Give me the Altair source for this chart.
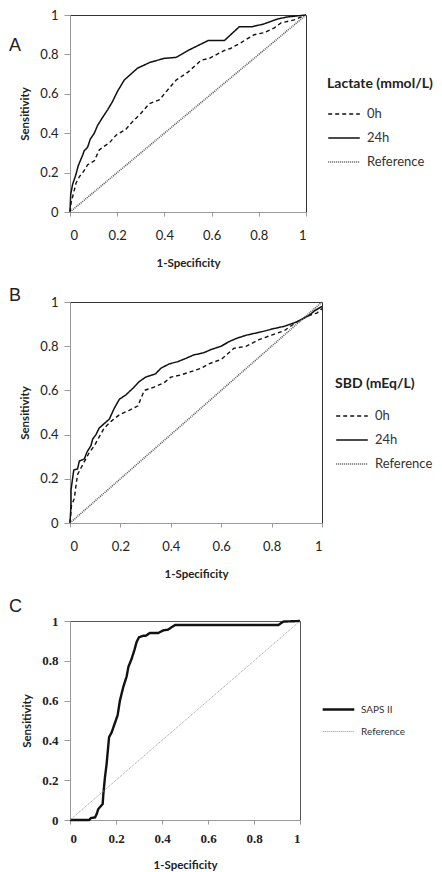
import altair as alt
import pandas as pd

LETTERS = ["A", "B", "C"]
LEGEND_TITLES = ["Lactate (mmol/L)", "SBD (mEq/L)", ""]
TICKS = [0, 0.2, 0.4, 0.6, 0.8, 1]

# Panel A: Lactate
a0_x = [0, 0.005, 0.016, 0.025, 0.04, 0.054, 0.075, 0.103, 0.124, 0.14, 0.166, 0.195, 0.237, 0.266, 0.30, 0.336, 0.38, 0.407, 0.45, 0.50, 0.555, 0.59, 0.654, 0.68, 0.725, 0.78, 0.823, 0.866, 0.894, 0.95, 1.0]
a0_y = [0, 0.05, 0.10, 0.145, 0.18, 0.20, 0.24, 0.26, 0.315, 0.33, 0.35, 0.39, 0.42, 0.46, 0.50, 0.55, 0.57, 0.61, 0.67, 0.71, 0.77, 0.78, 0.82, 0.83, 0.86, 0.90, 0.91, 0.935, 0.96, 0.975, 1.0]
a24_x = [0, 0.003, 0.011, 0.025, 0.035, 0.054, 0.06, 0.075, 0.086, 0.103, 0.117, 0.138, 0.16, 0.18, 0.20, 0.23, 0.258, 0.286, 0.34, 0.40, 0.45, 0.50, 0.585, 0.654, 0.717, 0.77, 0.823, 0.88, 0.92, 0.96, 1.0]
a24_y = [0, 0.09, 0.14, 0.19, 0.235, 0.29, 0.31, 0.33, 0.37, 0.40, 0.44, 0.48, 0.52, 0.56, 0.61, 0.67, 0.70, 0.73, 0.76, 0.78, 0.785, 0.82, 0.87, 0.87, 0.94, 0.94, 0.955, 0.98, 0.99, 0.995, 1.0]

# Panel B: SBD
b0_x = [0, 0.006, 0.017, 0.024, 0.03, 0.044, 0.063, 0.077, 0.097, 0.116, 0.136, 0.163, 0.196, 0.235, 0.27, 0.28, 0.295, 0.334, 0.374, 0.40, 0.44, 0.48, 0.52, 0.55, 0.60, 0.65, 0.70, 0.75, 0.80, 0.85, 0.90, 0.95, 0.98, 1.0]
b0_y = [0, 0.08, 0.11, 0.17, 0.22, 0.25, 0.29, 0.32, 0.35, 0.39, 0.43, 0.46, 0.49, 0.51, 0.53, 0.56, 0.60, 0.615, 0.635, 0.66, 0.67, 0.685, 0.70, 0.72, 0.74, 0.79, 0.80, 0.83, 0.85, 0.87, 0.91, 0.94, 0.95, 0.97]
b24_x = [0, 0.004, 0.004, 0.015, 0.03, 0.037, 0.057, 0.067, 0.083, 0.09, 0.103, 0.116, 0.136, 0.156, 0.176, 0.196, 0.222, 0.25, 0.275, 0.30, 0.34, 0.36, 0.394, 0.427, 0.46, 0.49, 0.53, 0.56, 0.60, 0.63, 0.66, 0.70, 0.76, 0.81, 0.85, 0.90, 0.95, 0.97, 1.0]
b24_y = [0, 0.08, 0.15, 0.24, 0.245, 0.28, 0.29, 0.32, 0.35, 0.38, 0.40, 0.43, 0.45, 0.47, 0.52, 0.56, 0.58, 0.61, 0.64, 0.66, 0.675, 0.70, 0.72, 0.73, 0.745, 0.76, 0.77, 0.785, 0.80, 0.82, 0.835, 0.85, 0.865, 0.88, 0.89, 0.91, 0.94, 0.96, 0.98]

# Panel C: SAPS II
c_x = [0, 0.083, 0.091, 0.109, 0.116, 0.123, 0.142, 0.145, 0.152, 0.159, 0.17, 0.181, 0.193, 0.207, 0.217, 0.232, 0.246, 0.254, 0.268, 0.28, 0.29, 0.30, 0.319, 0.329, 0.348, 0.384, 0.406, 0.425, 0.457, 0.906, 0.928, 1.0]
c_y = [0, 0, 0.01, 0.013, 0.03, 0.055, 0.08, 0.13, 0.215, 0.28, 0.417, 0.44, 0.48, 0.526, 0.60, 0.67, 0.72, 0.77, 0.81, 0.854, 0.896, 0.918, 0.926, 0.926, 0.94, 0.94, 0.953, 0.956, 0.98, 0.98, 0.997, 1.0]

ref_x = [0, 1]
ref_y = [0, 1]


def frame(series):
    rows = []
    for name, xs, ys in series:
        for i, (xv, yv) in enumerate(zip(xs, ys)):
            rows.append({"series": name, "x": xv, "y": yv, "i": i})
    return pd.DataFrame(rows)


def panel(idx, series, colors, dashes, widths, w, h, legend_kw, label_font,
          label_size, label_weight, view_stroke, letter_y, xlab_pad, xtitle_pad):
    df = frame(series)
    names = [s[0] for s in series]
    leg = alt.Legend(**legend_kw)
    xaxis = alt.Axis(values=TICKS, format="~g", title="1-Specificity", grid=False,
                     domainColor="#999", tickColor="#999", tickSize=4,
                     labelPadding=xlab_pad, labelFont=label_font, labelFontSize=label_size,
                     labelFontWeight=label_weight, labelColor="#222",
                     titleFont="Lato", titleFontSize=11.5, titleFontWeight="bold",
                     titleColor="#222", titlePadding=xtitle_pad)
    yaxis = alt.Axis(values=TICKS, format="~g", title="Sensitivity", grid=False,
                     domainColor="#999", tickColor="#999", tickSize=6,
                     labelPadding=6, labelFont=label_font, labelFontSize=label_size,
                     labelFontWeight=label_weight, labelColor="#222",
                     titleFont="Lato", titleFontSize=11.5, titleFontWeight="bold",
                     titleColor="#222", titlePadding=9)
    lines = alt.Chart(df).mark_line(interpolate="linear").encode(
        x=alt.X("x:Q", scale=alt.Scale(domain=[0, 1], nice=False), axis=xaxis),
        y=alt.Y("y:Q", scale=alt.Scale(domain=[0, 1], nice=False), axis=yaxis),
        color=alt.Color("series:N", scale=alt.Scale(domain=names, range=colors), legend=leg),
        strokeDash=alt.StrokeDash("series:N", scale=alt.Scale(domain=names, range=dashes), legend=leg),
        strokeWidth=alt.StrokeWidth("series:N", scale=alt.Scale(domain=names, range=widths), legend=leg),
        order=alt.Order("i:Q"),
    )
    letter = alt.Chart(pd.DataFrame({"t": [LETTERS[idx]]})).mark_text(
        font="Liberation Sans", fontSize=18, color="#222", align="left", baseline="middle"
    ).encode(text="t:N", x=alt.value(-61), y=alt.value(letter_y))
    return alt.layer(lines, letter).properties(
        width=w, height=h, view=alt.ViewBackground(stroke=view_stroke, strokeWidth=1)
    )


legA = dict(title=LEGEND_TITLES[0], orient="none", legendX=257, legendY=62,
            symbolType="stroke", symbolSize=1000, titleFont="Lato", titleFontSize=14,
            titleFontWeight="bold", titleColor="#222", titlePadding=6,
            labelFont="Lato", labelFontSize=13, labelColor="#333", labelOffset=6,
            rowPadding=-6)
legB = dict(legA, title=LEGEND_TITLES[1], legendX=265, legendY=75, titlePadding=8,
            rowPadding=-4)
legC = dict(orient="none", legendX=251, legendY=71, title=None,
            symbolType="stroke", symbolSize=1000, labelFont="Lato", labelFontSize=10,
            labelColor="#333", labelOffset=5, rowPadding=-16)

A = panel(0, [("0h", a0_x, a0_y), ("24h", a24_x, a24_y), ("Reference", ref_x, ref_y)],
          ["#111", "#111", "#555"], [[4, 3], [1, 0], [1, 1]], [1.4, 1.6, 1.0],
          236, 197, legA, "Lato", 13, "normal", "#333", 31, 13, 15)
B = panel(1, [("0h", b0_x, b0_y), ("24h", b24_x, b24_y), ("Reference", ref_x, ref_y)],
          ["#111", "#111", "#555"], [[4, 3], [1, 0], [1, 1]], [1.4, 1.6, 1.0],
          252, 221, legB, "Lato", 13, "normal", "#333", -6, 13, 15)
C = panel(2, [("SAPS II", c_x, c_y), ("Reference", ref_x, ref_y)],
          ["#111", "#999"], [[1, 0], [1, 1]], [2.4, 1.0],
          230, 199, legC, "Liberation Serif", 13, "bold", "#555", -14, 8, 14)

chart = alt.vconcat(A, B, C, spacing=17).resolve_scale(
    x="independent", y="independent", color="independent",
    strokeDash="independent", strokeWidth="independent"
).resolve_legend(color="independent", strokeDash="independent", strokeWidth="independent"
).properties(padding=0)

chart.save("out.html", embed_options={"renderer": "svg", "actions": False})
